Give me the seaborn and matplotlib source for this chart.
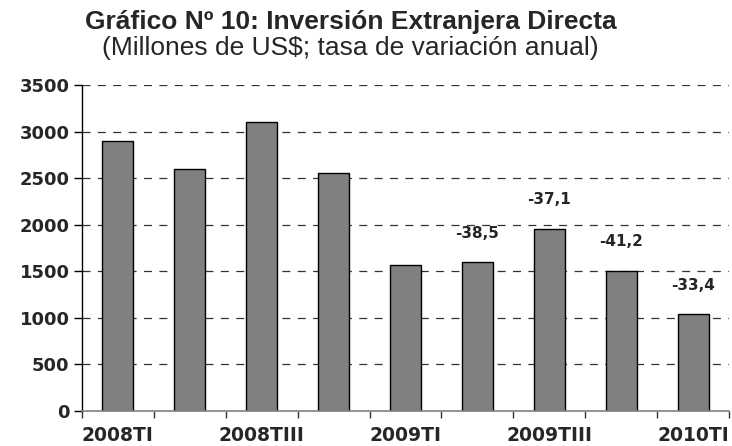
import matplotlib
matplotlib.use("Agg")
import matplotlib.pyplot as plt
import seaborn as sns
import pandas as pd
from matplotlib.ticker import FixedLocator

categories = ["2008TI", "2008TII", "2008TIII", "2008TIV", "2009TI",
              "2009TII", "2009TIII", "2009TIV", "2010TI"]
values = [2900, 2600, 3105, 2560, 1567, 1597, 1955, 1505, 1040]
rate_labels = ["", "", "", "", "", "-38,5", "-37,1", "-41,2", "-33,4"]
tick_labels = ["2008TI", "", "2008TIII", "", "2009TI", "", "2009TIII", "", "2010TI"]
yticks = [0, 500, 1000, 1500, 2000, 2500, 3000, 3500]

sns.set_style("white")
plt.rcParams['font.family'] = ['DejaVu Sans']

df = pd.DataFrame({"cat": categories, "val": values})

fig = plt.figure(figsize=(7.32, 4.46), dpi=100)
ax = fig.add_axes([0.112, 0.0785, 0.884, 0.7305])

for y in yticks[1:]:
    ax.axhline(y, color="#333333", lw=0.9, ls=(0, (6.4, 5.9)), zorder=0)

sns.barplot(data=df, x="cat", y="val", color="#808080", saturation=1,
            edgecolor="black", linewidth=1, width=0.43, ax=ax, zorder=2)

ax.set_xlim(-0.5, 8.5)
ax.set_ylim(0, 3500)
ax.set_yticks(yticks)
ax.set_yticklabels([str(v) for v in yticks], fontweight="bold", fontsize=13)
ax.set_xticks(range(len(categories)))
ax.set_xticklabels(tick_labels, fontweight="bold", fontsize=13.5)
ax.tick_params(axis="x", which="major", length=0, pad=11, bottom=True)
ax.xaxis.set_minor_locator(FixedLocator([i - 0.5 for i in range(len(categories) + 1)]))
ax.tick_params(axis="x", which="minor", length=5, width=1, color="#333333",
               direction="out", bottom=True)
ax.tick_params(axis="y", length=6, width=1, color="black", direction="out",
               pad=3, left=True)
ax.set_xlabel("")
ax.set_ylabel("")

for s in ["top", "right"]:
    ax.spines[s].set_visible(False)
ax.spines["left"].set_color("black")
ax.spines["left"].set_linewidth(1)
ax.spines["bottom"].set_color("#808080")
ax.spines["bottom"].set_linewidth(1.2)
ax.spines["bottom"].set_zorder(3)

for i, (v, lab) in enumerate(zip(values, rate_labels)):
    if lab:
        ax.annotate(lab, (i, v), xytext=(0, 21), textcoords="offset points",
                    ha="center", va="center", fontweight="bold", fontsize=11)

fig.text(0.479, 0.951, "Gráfico Nº 10: Inversión Extranjera Directa",
         ha="center", va="center", fontsize=19, fontweight="bold",
         family="Liberation Sans")
fig.text(0.479, 0.892, "(Millones de US$; tasa de variación anual)",
         ha="center", va="center", fontsize=19, family="Liberation Sans")

fig.savefig("out.png", dpi=100)
